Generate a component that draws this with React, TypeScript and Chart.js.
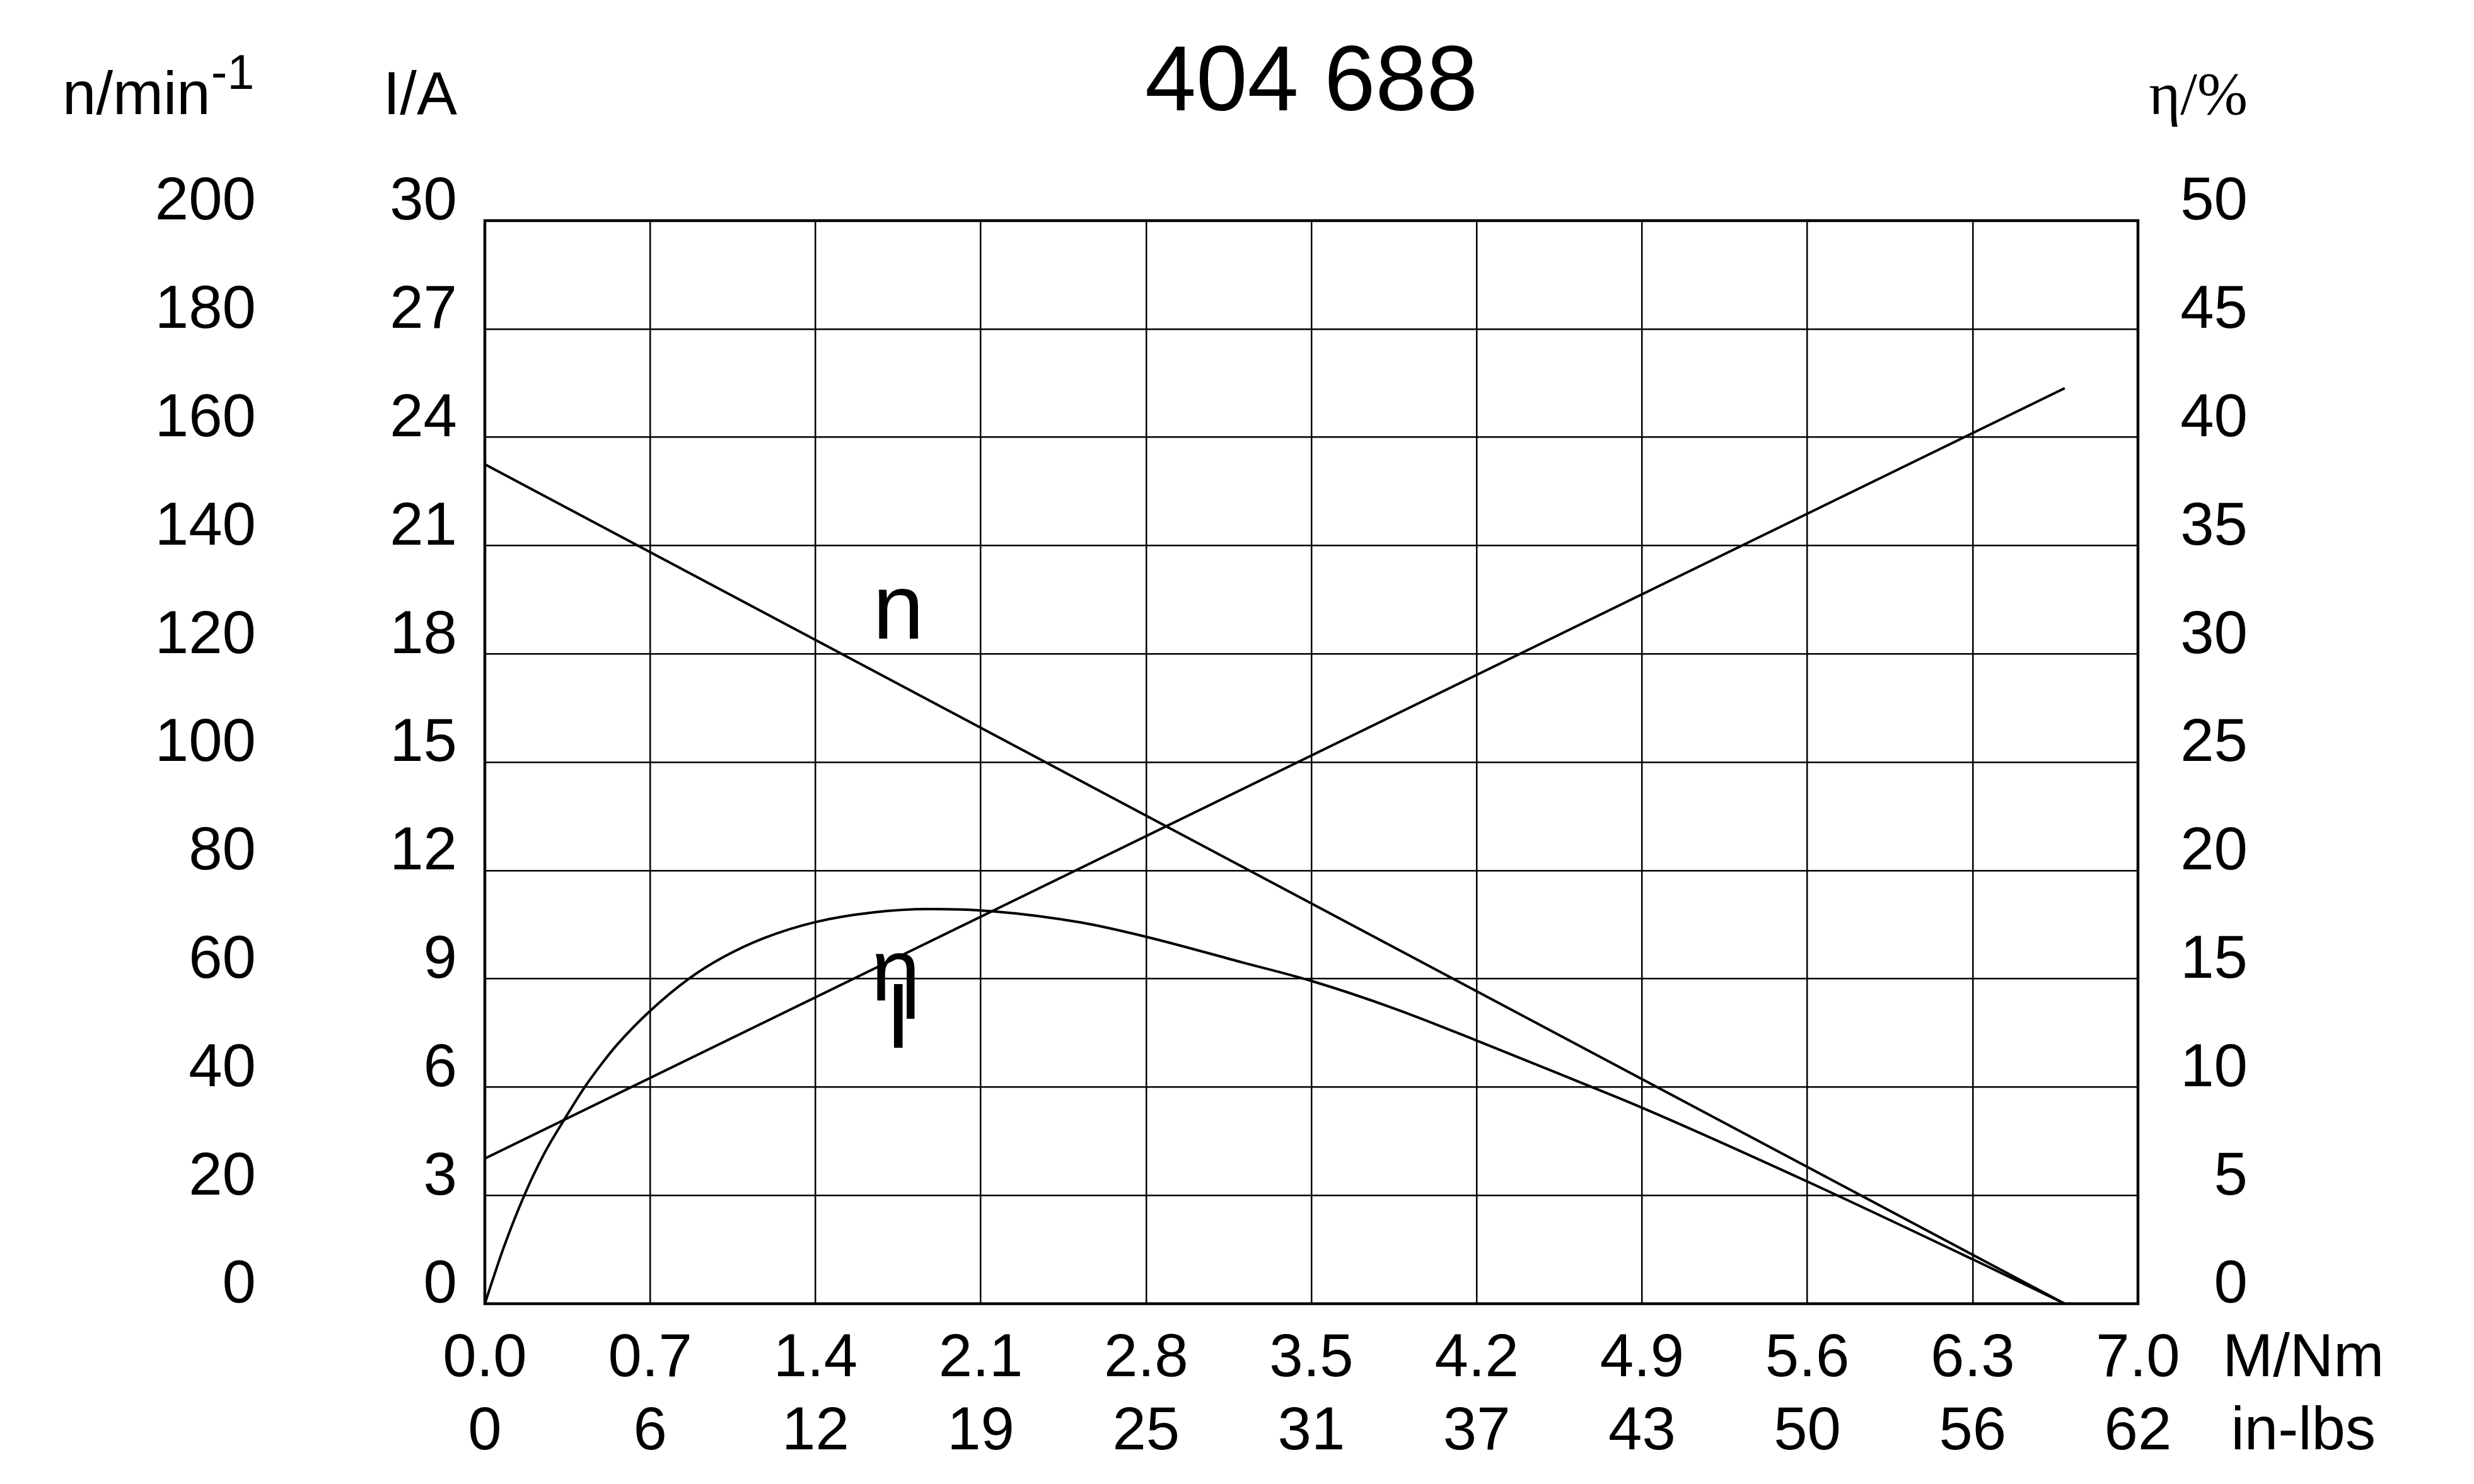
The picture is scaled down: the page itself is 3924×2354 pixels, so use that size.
import React, { useEffect, useRef } from "react";
import { Chart, registerables } from "chart.js";

Chart.register(...registerables);

// ---- data ----
const torqueNm = ["0.0", "0.7", "1.4", "2.1", "2.8", "3.5", "4.2", "4.9", "5.6", "6.3", "7.0"];
const torqueInLbs = ["0", "6", "12", "19", "25", "31", "37", "43", "50", "56", "62"];
const speedTicks = [0, 20, 40, 60, 80, 100, 120, 140, 160, 180, 200];
const currentTicks = [0, 3, 6, 9, 12, 15, 18, 21, 24, 27, 30];
const efficiencyTicks = [0, 5, 10, 15, 20, 25, 30, 35, 40, 45, 50];

const speedM = [0, 6.69];
const speedN = [155, 0];

const currentM = [0, 6.69];
const currentI = [4.02, 25.36];

const effM = [0, 0.08, 0.167, 0.25, 0.333, 0.423, 0.5, 0.56, 0.7, 0.87, 1.013, 1.18, 1.4, 1.64, 1.88, 2.148, 2.524, 2.8, 3.21, 3.5, 3.853, 4.2, 4.62, 4.9, 5.6, 6.3, 6.69];
const effEta = [0, 2.6, 5, 6.9, 8.44, 10, 11.15, 11.96, 13.52, 15.05, 16.02, 16.87, 17.62, 18.06, 18.22, 18.12, 17.6, 16.94, 15.75, 14.9, 13.62, 12.15, 10.3, 9.05, 5.64, 2.05, 0];

const TITLE = "404 688";
const SANS = '"Liberation Sans", Arial, sans-serif';
const SERIF = '"Liberation Serif", "Times New Roman", serif';

const W = 3924;
const H = 2354;
const X_PAD = 30;
const X_LH = 1.2135;

const zip = (xs: number[], ys: number[]) => xs.map((x, i) => ({ x, y: ys[i] }));

const decorPlugin = {
  id: "decor",
  beforeDatasetsDraw(chart: any) {
    const { ctx, chartArea } = chart;
    ctx.save();
    ctx.strokeStyle = "#000";
    ctx.lineWidth = 4.5;
    ctx.strokeRect(chartArea.left, chartArea.top, chartArea.right - chartArea.left, chartArea.bottom - chartArea.top);
    ctx.restore();
  },
  afterDraw(chart: any) {
    const { ctx, scales } = chart;
    const xs = scales.x;
    const sN = scales.n;
    const sI = scales.i;
    const sE = scales.eta;
    ctx.save();
    ctx.fillStyle = "#000";
    ctx.textBaseline = "alphabetic";

    // axis unit titles
    ctx.font = `96px ${SANS}`;
    ctx.textAlign = "left";
    const nx = sN.left + 99;
    ctx.fillText("n/min", nx, 181);
    const w = ctx.measureText("n/min").width;
    ctx.font = `77px ${SANS}`;
    ctx.fillText("-1", nx + w + 1, 141);

    ctx.font = `96px ${SANS}`;
    ctx.textAlign = "right";
    ctx.fillText("I/A", sI.right - 44, 181);

    ctx.font = `96px ${SERIF}`;
    ctx.textAlign = "right";
    ctx.fillText("η/%", sE.right, 181);

    // x unit labels
    ctx.font = `96px ${SANS}`;
    ctx.textAlign = "center";
    ctx.textBaseline = "middle";
    const ux = xs.getPixelForValue(7.7);
    const lh = 96 * X_LH;
    const y0 = xs.top + X_PAD + lh / 2;
    ctx.fillText("M/Nm", ux, y0);
    ctx.fillText("in-lbs", ux, y0 + lh);

    // curve labels
    ctx.textBaseline = "alphabetic";
    ctx.textAlign = "center";
    ctx.font = `146px ${SANS}`;
    ctx.fillText("n", xs.getPixelForValue(1.751), sN.getPixelForValue(122.8));
    ctx.font = `140px ${SANS}`;
    ctx.fillText("η", xs.getPixelForValue(1.74), sE.getPixelForValue(14.0));
    ctx.font = `146px ${SANS}`;
    ctx.fillText("I", xs.getPixelForValue(1.751), sI.getPixelForValue(7.09));
    ctx.restore();
  },
};

export default function App() {
  const ref = useRef<HTMLCanvasElement | null>(null);

  useEffect(() => {
    if (!ref.current) return;
    Chart.defaults.font.family = SANS;
    Chart.defaults.color = "#000";

    const tickFont = { size: 96, family: SANS, lineHeight: X_LH };
    const gridOn = { display: true, color: "#000", lineWidth: 2.5, drawTicks: false };
    const gridOff = { display: false, drawTicks: false };

    const chart = new Chart(ref.current, {
      type: "line",
      data: {
        datasets: [
          {
            label: "n",
            data: zip(speedM, speedN),
            yAxisID: "n",
            borderColor: "#000",
            borderWidth: 4,
            pointRadius: 0,
            tension: 0,
          },
          {
            label: "I",
            data: zip(currentM, currentI),
            yAxisID: "i",
            borderColor: "#000",
            borderWidth: 4,
            pointRadius: 0,
            tension: 0,
          },
          {
            label: "η",
            data: zip(effM, effEta),
            yAxisID: "eta",
            borderColor: "#000",
            borderWidth: 4,
            pointRadius: 0,
            cubicInterpolationMode: "monotone",
          },
        ],
      },
      options: {
        animation: false,
        responsive: false,
        devicePixelRatio: 1,
        layout: { padding: { left: 0, top: 0, bottom: 0, right: W - 3565 } },
        plugins: {
          legend: { display: false },
          tooltip: { enabled: false },
          title: {
            display: true,
            text: TITLE,
            fullSize: false,
            color: "#000",
            font: { size: 146, family: SANS, weight: "normal", lineHeight: 1.2 },
            padding: { top: 47, bottom: 127.8 },
          },
        },
        scales: {
          x: {
            type: "linear",
            position: "bottom",
            min: 0,
            max: 7,
            grid: gridOn,
            border: { display: false },
            afterBuildTicks: (s: any) => {
              s.ticks = torqueNm.map((t) => ({ value: parseFloat(t) }));
            },
            afterFit: (s: any) => {
              s.height = 286;
            },
            ticks: {
              autoSkip: false,
              maxRotation: 0,
              minRotation: 0,
              padding: X_PAD,
              font: tickFont,
              color: "#000",
              callback: (_v: any, i: number) => [torqueNm[i], torqueInLbs[i]],
            },
          },
          n: {
            type: "linear",
            position: "left",
            weight: 2,
            min: 0,
            max: 200,
            grid: gridOff,
            border: { display: false },
            afterBuildTicks: (s: any) => {
              s.ticks = speedTicks.map((v) => ({ value: v }));
            },
            afterFit: (s: any) => {
              s.width = 569;
            },
            ticks: {
              padding: 163,
              labelOffset: -28,
              font: tickFont,
              color: "#000",
              callback: (v: any) => String(v),
            },
          },
          i: {
            type: "linear",
            position: "left",
            weight: 1,
            min: 0,
            max: 30,
            grid: gridOff,
            border: { display: false },
            afterBuildTicks: (s: any) => {
              s.ticks = currentTicks.map((v) => ({ value: v }));
            },
            afterFit: (s: any) => {
              s.width = 200;
            },
            ticks: {
              padding: 44,
              labelOffset: -28,
              font: tickFont,
              color: "#000",
              callback: (v: any) => String(v),
            },
          },
          eta: {
            type: "linear",
            position: "right",
            min: 0,
            max: 50,
            grid: gridOn,
            border: { display: false },
            afterBuildTicks: (s: any) => {
              s.ticks = efficiencyTicks.map((v) => ({ value: v }));
            },
            afterFit: (s: any) => {
              s.width = 3565 - 3391;
            },
            ticks: {
              padding: 60,
              crossAlign: "far",
              labelOffset: -28,
              font: tickFont,
              color: "#000",
              callback: (v: any) => String(v),
            },
          },
        },
      } as any,
      plugins: [decorPlugin],
    } as any);

    return () => chart.destroy();
  }, []);

  return (
    <div style={{ position: "fixed", left: 0, top: 0, width: W, height: H, background: "#fff" }}>
      <canvas ref={ref} width={W} height={H} style={{ width: W, height: H, display: "block" }} />
    </div>
  );
}
